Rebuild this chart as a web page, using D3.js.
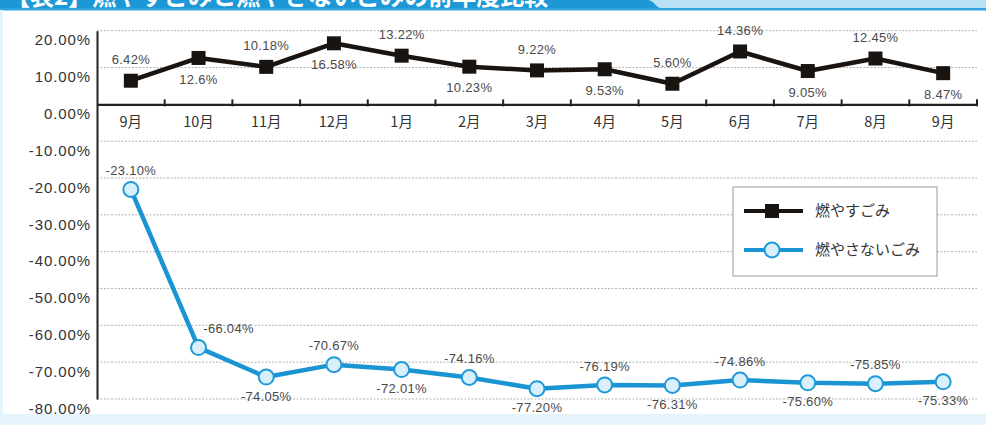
<!DOCTYPE html>
<html><head><meta charset="utf-8">
<script src="https://cdn.jsdelivr.net/npm/d3@7"></script>
<style>
html,body{margin:0;padding:0;background:#fff;}
svg{display:block;}
</style></head>
<body><svg id="chart" width="986" height="425"></svg>
<script>
// ---- data ----
const titleText = "【表2】燃やすごみと燃やさないごみの前年度比較";
const months = ["9月","10月","11月","12月","1月","2月","3月","4月","5月","6月","7月","8月","9月"];
const seriesNames = ["燃やすごみ","燃やさないごみ"];
const burnable = [6.42,12.6,10.18,16.58,13.22,10.23,9.22,9.53,5.60,14.36,9.05,12.45,8.47];
const burnableLabels = ["6.42%","12.6%","10.18%","16.58%","13.22%","10.23%","9.22%","9.53%","5.60%","14.36%","9.05%","12.45%","8.47%"];
const nonBurnable = [-23.10,-66.04,-74.05,-70.67,-72.01,-74.16,-77.20,-76.19,-76.31,-74.86,-75.60,-75.85,-75.33];
const nonBurnableLabels = ["-23.10%","-66.04%","-74.05%","-70.67%","-72.01%","-74.16%","-77.20%","-76.19%","-76.31%","-74.86%","-75.60%","-75.85%","-75.33%"];
const yTicks = [20,10,0,-10,-20,-30,-40,-50,-60,-70,-80];

// ---- layout (styles kept separate from data) ----
const burnSide = [-1,1,-1,1,-1,1,-1,1,-1,-1,1,-1,1];
const nonSide  = [-1,-1,1,-1,1,-1,1,-1,1,-1,1,-1,1];
const numFont = "'Liberation Sans', Arial, 'Noto Sans CJK JP', sans-serif";
const jpFont = "'Noto Sans CJK JP', 'Liberation Sans', sans-serif";

const svg = d3.select("#chart");

// frame
svg.append("rect").attr("x",0).attr("y",0).attr("width",986).attr("height",10).attr("fill","#b9e1f6");
svg.append("path").attr("d","M0,0 H648 C654,0 656,9 664,9 H0 Z").attr("fill","#1d98d7");
svg.append("rect").attr("x",0).attr("y",8).attr("width",986).attr("height",2.5).attr("fill","#2ea3de");
svg.append("text").text(titleText).attr("x",6).attr("y",5)
  .attr("fill","#fff").attr("font-family",jpFont).attr("font-weight","bold").attr("font-size",24);
svg.append("rect").attr("x",0).attr("y",10).attr("width",3).attr("height",415).attr("fill","#e2f3fc");
svg.append("rect").attr("x",0).attr("y",414).attr("width",986).attr("height",11).attr("fill","#e6f5fc");

// scales
const x = d3.scaleBand().domain(d3.range(months.length)).range([97,977]);
const cx = i => x(i) + x.bandwidth()/2;
const y = d3.scaleLinear().domain([-80,20]).range([399,30.7]);

// grid
svg.append("g").selectAll("line").data(yTicks.filter(d=>d!==0)).join("line")
  .attr("x1",97).attr("x2",977).attr("y1",d=>y(d)).attr("y2",d=>y(d))
  .attr("stroke","#b3b3b3").attr("stroke-width",1).attr("stroke-dasharray","2,1.5");

// y axis
const yAxis = svg.append("g").attr("transform","translate(97,0)")
  .call(d3.axisLeft(y).tickValues(yTicks).tickSize(0).tickPadding(6).tickFormat(d=>d.toFixed(2)+"%"));
yAxis.select(".domain").attr("stroke","#222").attr("stroke-width",2);
yAxis.selectAll("text").attr("dy","0.95em").attr("font-family",numFont).attr("font-size",15)
  .attr("letter-spacing","0.9px").attr("fill","#333");

// x axis at zero
const xAxis = svg.append("g").attr("transform",`translate(0,${y(0)})`)
  .call(d3.axisBottom(x).tickSize(0).tickPadding(12).tickFormat(i=>months[i]));
xAxis.select(".domain").attr("stroke","#222").attr("stroke-width",2.2);
xAxis.selectAll("text").attr("font-family",jpFont).attr("font-size",14.5).attr("fill","#333");
svg.append("g").selectAll("line").data(d3.range(1,months.length+1)).join("line")
  .attr("x1",i=> i<months.length ? x(i) : x(months.length-1)+x.bandwidth())
  .attr("x2",i=> i<months.length ? x(i) : x(months.length-1)+x.bandwidth())
  .attr("y1",y(0)-5).attr("y2",y(0)+2).attr("stroke","#222").attr("stroke-width",2);

// lines
const line = d3.line().x((d,i)=>cx(i)).y(d=>y(d));
svg.append("path").datum(nonBurnable).attr("d",line).attr("fill","none")
  .attr("stroke","#1a94d2").attr("stroke-width",4.5).attr("stroke-linejoin","round");
svg.append("path").datum(burnable).attr("d",line).attr("fill","none")
  .attr("stroke","#1a1411").attr("stroke-width",4.5).attr("stroke-linejoin","round");

// markers
svg.append("g").selectAll("rect").data(burnable).join("rect")
  .attr("x",(d,i)=>cx(i)-7).attr("y",d=>y(d)-7).attr("width",14).attr("height",14).attr("fill","#1a1411");
svg.append("g").selectAll("circle").data(nonBurnable).join("circle")
  .attr("cx",(d,i)=>cx(i)).attr("cy",d=>y(d)).attr("r",7.5)
  .attr("fill","#d9effb").attr("stroke","#1f9ad8").attr("stroke-width",2);

// data labels
svg.append("g").selectAll("text").data(burnable).join("text")
  .attr("x",(d,i)=>cx(i)).attr("y",(d,i)=>y(d)+burnSide[i]*21).attr("dy","0.35em")
  .attr("text-anchor","middle").attr("font-family",numFont).attr("font-size",13)
  .attr("letter-spacing","0.3px").attr("fill","#4a4a4a").text((d,i)=>burnableLabels[i]);
svg.append("g").selectAll("text").data(nonBurnable).join("text")
  .attr("x",(d,i)=>cx(i)+(i===1?30:0)).attr("y",(d,i)=>y(d)+nonSide[i]*19).attr("dy","0.35em")
  .attr("text-anchor","middle").attr("font-family",numFont).attr("font-size",13)
  .attr("letter-spacing","0.3px").attr("fill","#4a4a4a").text((d,i)=>nonBurnableLabels[i]);

// legend
const lg = svg.append("g").attr("transform","translate(733,187)");
lg.append("rect").attr("width",204).attr("height",89).attr("fill","#fff").attr("stroke","#9a9a9a").attr("stroke-width",1);
lg.append("line").attr("x1",11).attr("x2",70).attr("y1",24).attr("y2",24).attr("stroke","#1a1411").attr("stroke-width",4);
lg.append("rect").attr("x",32).attr("y",17).attr("width",14).attr("height",14).attr("fill","#1a1411");
lg.append("line").attr("x1",11).attr("x2",70).attr("y1",63).attr("y2",63).attr("stroke","#1a94d2").attr("stroke-width",4);
lg.append("circle").attr("cx",39).attr("cy",63).attr("r",7.5).attr("fill","#d9effb").attr("stroke","#1f9ad8").attr("stroke-width",2);
lg.selectAll("text.lt").data(seriesNames).join("text").attr("class","lt")
  .attr("x",82).attr("y",(d,i)=>i===0?24:63).attr("dy","0.35em")
  .attr("font-family",jpFont).attr("font-size",15).attr("fill","#333").text(d=>d);
</script></body></html>
